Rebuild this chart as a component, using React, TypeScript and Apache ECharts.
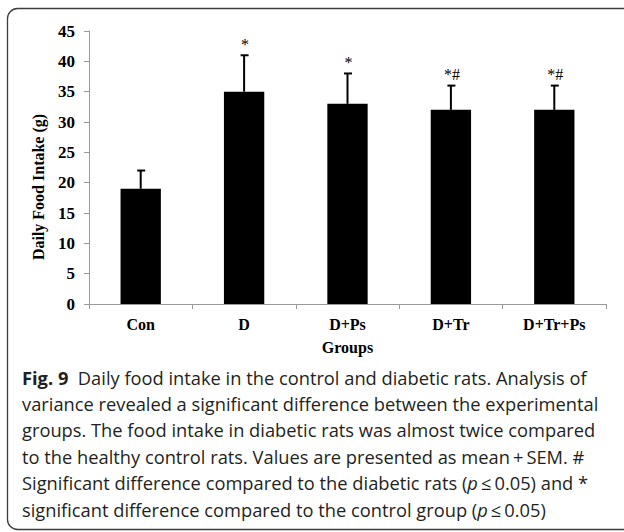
import React, { useEffect, useRef } from "react";
import * as echarts from "echarts";

// Daily food intake per group (g), mean and SEM
const groups = ["Con", "D", "D+Ps", "D+Tr", "D+Tr+Ps"];
const meanIntake = [19, 35, 33, 32, 32];
const semIntake = [3, 6, 5, 4, 4];
const significance = ["", "*", "*", "*#", "*#"];
const yTicks = { min: 0, max: 45, interval: 5 };

const captionLines = [
  "{b|Fig. 9}  Daily food intake in the control and diabetic rats. Analysis of",
  "variance revealed a significant difference between the experimental",
  "groups. The food intake in diabetic rats was almost twice compared",
  "to the healthy control rats. Values are presented as mean\u2009+\u2009SEM. #",
  "Significant difference compared to the diabetic rats ({i|p}\u2009\u2264\u20090.05) and *",
  "significant difference compared to the control group ({i|p}\u2009\u2264\u20090.05)",
];

const SERIF = "'Liberation Serif', 'Times New Roman', serif";
const SANS = "'Open Sans', 'Noto Sans', sans-serif";

export default function App() {
  const ref = useRef<HTMLDivElement>(null);

  useEffect(() => {
    if (!ref.current) return;
    const chart = echarts.init(ref.current, undefined, { renderer: "svg" });

    const errData = groups.map((_, i) => [i, meanIntake[i], meanIntake[i] + semIntake[i]]);

    const captionFont = 18.3;
    const captionGraphics = captionLines.map((line, i) => ({
      type: "text",
      left: 22,
      top: 368 + i * 26.4,
      style: {
        text: line,
        fontFamily: SANS,
        fontSize: captionFont,
        fill: "#231f20",
        rich: {
          b: { fontFamily: SANS, fontSize: captionFont, fontWeight: "bold", fill: "#231f20" },
          i: { fontFamily: SANS, fontSize: captionFont, fontStyle: "italic", fill: "#231f20" },
        },
      },
    }));

    chart.setOption({
      animation: false,
      backgroundColor: "#ffffff",
      grid: { left: 89, right: 18, top: 31, bottom: 228, containLabel: false },
      xAxis: {
        type: "category",
        data: groups,
        axisLine: { show: true, lineStyle: { color: "#9a9a9a", width: 1 } },
        axisTick: { show: true, length: 5, lineStyle: { color: "#9a9a9a" } },
        axisLabel: {
          color: "#000",
          fontFamily: SERIF,
          fontWeight: "bold",
          fontSize: 16,
          margin: 12,
        },
        name: "Groups",
        nameLocation: "middle",
        nameGap: 35,
        nameTextStyle: { color: "#000", fontFamily: SERIF, fontWeight: "bold", fontSize: 16 },
      },
      yAxis: {
        type: "value",
        min: yTicks.min,
        max: yTicks.max,
        interval: yTicks.interval,
        axisLine: { show: true, lineStyle: { color: "#9a9a9a", width: 1 } },
        axisTick: { show: true, length: 5, lineStyle: { color: "#9a9a9a" } },
        splitLine: { show: false },
        axisLabel: {
          color: "#000",
          fontFamily: SERIF,
          fontWeight: "bold",
          fontSize: 17,
          margin: 14,
        },
      },
      series: [
        {
          type: "bar",
          data: meanIntake,
          barWidth: "39%",
          itemStyle: { color: "#000" },
          z: 2,
        },
        {
          type: "custom",
          data: errData,
          z: 3,
          renderItem: (params: any, api: any) => {
            const idx = params.dataIndex;
            const base = api.coord([api.value(0), api.value(1)]);
            const top = api.coord([api.value(0), api.value(2)]);
            const cap = 3.5;
            return {
              type: "group",
              children: [
                {
                  type: "line",
                  shape: { x1: base[0], y1: base[1], x2: top[0], y2: top[1] },
                  style: { stroke: "#000", lineWidth: 2 },
                },
                {
                  type: "line",
                  shape: { x1: top[0] - cap, y1: top[1], x2: top[0] + cap + 1, y2: top[1] },
                  style: { stroke: "#000", lineWidth: 2 },
                },
                {
                  type: "text",
                  style: {
                    text: significance[idx],
                    x: top[0] + 1,
                    y: top[1] - 3,
                    align: "center",
                    verticalAlign: "bottom",
                    fontFamily: SERIF,
                    fontSize: 16,
                    fill: "#000",
                  },
                },
              ],
            };
          },
        },
      ],
      graphic: [
        {
          type: "rect",
          shape: { x: 7.5, y: 8.5, width: 630, height: 521, r: 10 },
          style: { fill: "none", stroke: "#3c3c3c", lineWidth: 1.3 },
          z: -1,
        },
        {
          type: "text",
          x: 38,
          y: 187,
          rotation: Math.PI / 2,
          style: {
            text: "Daily Food Intake (g)",
            align: "center",
            verticalAlign: "middle",
            fontFamily: SERIF,
            fontWeight: "bold",
            fontSize: 16,
            fill: "#000",
          },
        },
        ...captionGraphics,
      ],
    });

    return () => chart.dispose();
  }, []);

  return (
    <div
      ref={ref}
      style={{ position: "fixed", left: 0, top: 0, width: 624, height: 532, background: "#fff" }}
    />
  );
}
